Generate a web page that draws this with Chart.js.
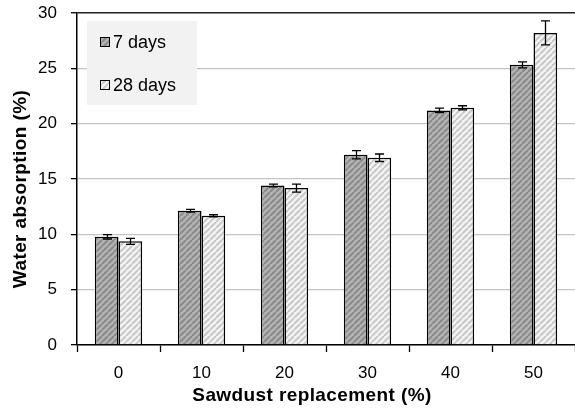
<!DOCTYPE html>
<html>
<head>
<meta charset="utf-8">
<script src="https://cdn.jsdelivr.net/npm/chart.js@4/dist/chart.umd.min.js"></script>
<style>
  html, body { margin: 0; padding: 0; background: #fff; overflow: hidden; }
  #wrap { width: 575px; height: 412px; position: relative; }
</style>
</head>
<body>
<div id="wrap"><canvas id="c" width="575" height="412"></canvas></div>
<script>
// Sawdust replacement levels (%)
const categories = ['0', '10', '20', '30', '40', '50'];
// Water absorption (%) after 7 and 28 days of curing
const days7  = [9.78, 12.13, 14.42, 17.19, 21.2, 25.32];
const days28 = [9.37, 11.68, 14.18, 16.92, 21.43, 28.2];
// Standard deviations shown as error bars
const err7   = [0.2, 0.12, 0.12, 0.38, 0.21, 0.27];
const err28  = [0.27, 0.09, 0.36, 0.34, 0.19, 1.08];
const seriesLabels = ['7 days', '28 days'];
const yTicks = [0, 5, 10, 15, 20, 25, 30];

const FONT = '"Liberation Sans", Arial, sans-serif';

function stripePattern(bg, stripe) {
  const s = 6;
  const c = document.createElement('canvas');
  c.width = s; c.height = s;
  const g = c.getContext('2d');
  g.fillStyle = bg;
  g.fillRect(0, 0, s, s);
  g.strokeStyle = stripe;
  g.lineWidth = 2;
  g.beginPath();
  for (let k = -1; k <= 1; k++) {
    g.moveTo(k * s, s);
    g.lineTo(k * s + s, 0);
  }
  g.stroke();
  return g.createPattern(c, 'repeat');
}

const ctx = document.getElementById('c').getContext('2d');
const fill7 = stripePattern('#b4b4b4', '#8a8a8a');
const fill28 = stripePattern('#f4f4f4', '#c8c8c8');

const errors = [err7, err28];

const errorBars = {
  id: 'errorBars',
  afterDatasetsDraw(chart) {
    const c = chart.ctx;
    const y = chart.scales.y;
    c.save();
    c.strokeStyle = '#000';
    c.lineWidth = 1.3;
    chart.data.datasets.forEach((ds, di) => {
      const meta = chart.getDatasetMeta(di);
      meta.data.forEach((el, i) => {
        const v = ds.data[i], e = errors[di][i];
        const yt = y.getPixelForValue(v + e), yb = y.getPixelForValue(v - e);
        const x = Math.round(el.x) + 0.5;
        c.beginPath();
        c.moveTo(x, yt); c.lineTo(x, yb);
        c.moveTo(x - 4.5, yt); c.lineTo(x + 4.5, yt);
        c.moveTo(x - 4.5, yb); c.lineTo(x + 4.5, yb);
        c.stroke();
      });
    });
    c.restore();
  }
};

const boxLegend = {
  id: 'boxLegend',
  afterDraw(chart) {
    const c = chart.ctx;
    c.save();
    c.fillStyle = '#f2f2f2';
    c.fillRect(87, 21, 110, 84);
    const rows = [42, 85];
    chart.data.datasets.forEach((ds, i) => {
      const cy = rows[i];
      c.fillStyle = ds.backgroundColor;
      c.fillRect(100, cy - 4.5, 9, 9);
      c.strokeStyle = '#000';
      c.lineWidth = 1;
      c.strokeRect(100.5, cy - 4.5, 9, 9);
      c.fillStyle = '#000';
      c.font = '18px ' + FONT;
      c.textAlign = 'left';
      c.textBaseline = 'middle';
      c.fillText(ds.label, 113, cy + 1);
    });
    c.restore();
  }
};

const axisTitles = {
  id: 'axisTitles',
  afterDraw(chart) {
    const c = chart.ctx;
    c.save();
    c.fillStyle = '#000';
    c.font = 'bold 19px ' + FONT;
    c.letterSpacing = '0.4px';
    c.textAlign = 'center';
    c.textBaseline = 'middle';
    c.fillText('Sawdust replacement (%)', 312, 396);
    c.translate(21, 189);
    c.rotate(-Math.PI / 2);
    c.fillText('Water absorption (%)', 0, 0);
    c.restore();
  }
};

new Chart(ctx, {
  type: 'bar',
  data: {
    labels: categories,
    datasets: [
      { label: seriesLabels[0], data: days7, backgroundColor: fill7, borderColor: '#000', borderWidth: 1.5 },
      { label: seriesLabels[1], data: days28, backgroundColor: fill28, borderColor: '#000', borderWidth: 1.5 }
    ]
  },
  options: {
    responsive: false,
    animation: false,
    devicePixelRatio: 1,
    layout: { padding: { top: 13, right: 0, left: 0, bottom: 0 } },
    datasets: { bar: { barPercentage: 1, categoryPercentage: 0.57 } },
    plugins: { legend: { display: false }, tooltip: { enabled: false } },
    scales: {
      x: {
        offset: true,
        grid: { offset: true, drawOnChartArea: false, tickLength: 7, color: '#000', tickWidth: 1.3 },
        border: { color: '#000', width: 1.5 },
        ticks: { color: '#000', font: { family: FONT, size: 17 }, padding: 11 },
        afterFit(s) { s.height = 67; s.paddingLeft = 0; s.paddingRight = 0; }
      },
      y: {
        min: 0, max: 30,
        afterBuildTicks(s) { s.ticks = yTicks.map(v => ({ value: v })); },
        grid: {
          color: c => (c.tick && c.tick.value === 30) ? '#222' : '#c4c4c4',
          lineWidth: c => (c.tick && c.tick.value === 30) ? 1.5 : 1.3,
          tickColor: '#000', tickLength: 6, tickWidth: 1.3
        },
        border: { color: '#000', width: 1.5 },
        ticks: { color: '#000', font: { family: FONT, size: 17 }, padding: 14 },
        afterFit(s) { s.width = 77; s.paddingTop = 0; s.paddingBottom = 0; }
      }
    }
  },
  plugins: [errorBars, boxLegend, axisTitles]
});
</script>
</body>
</html>
